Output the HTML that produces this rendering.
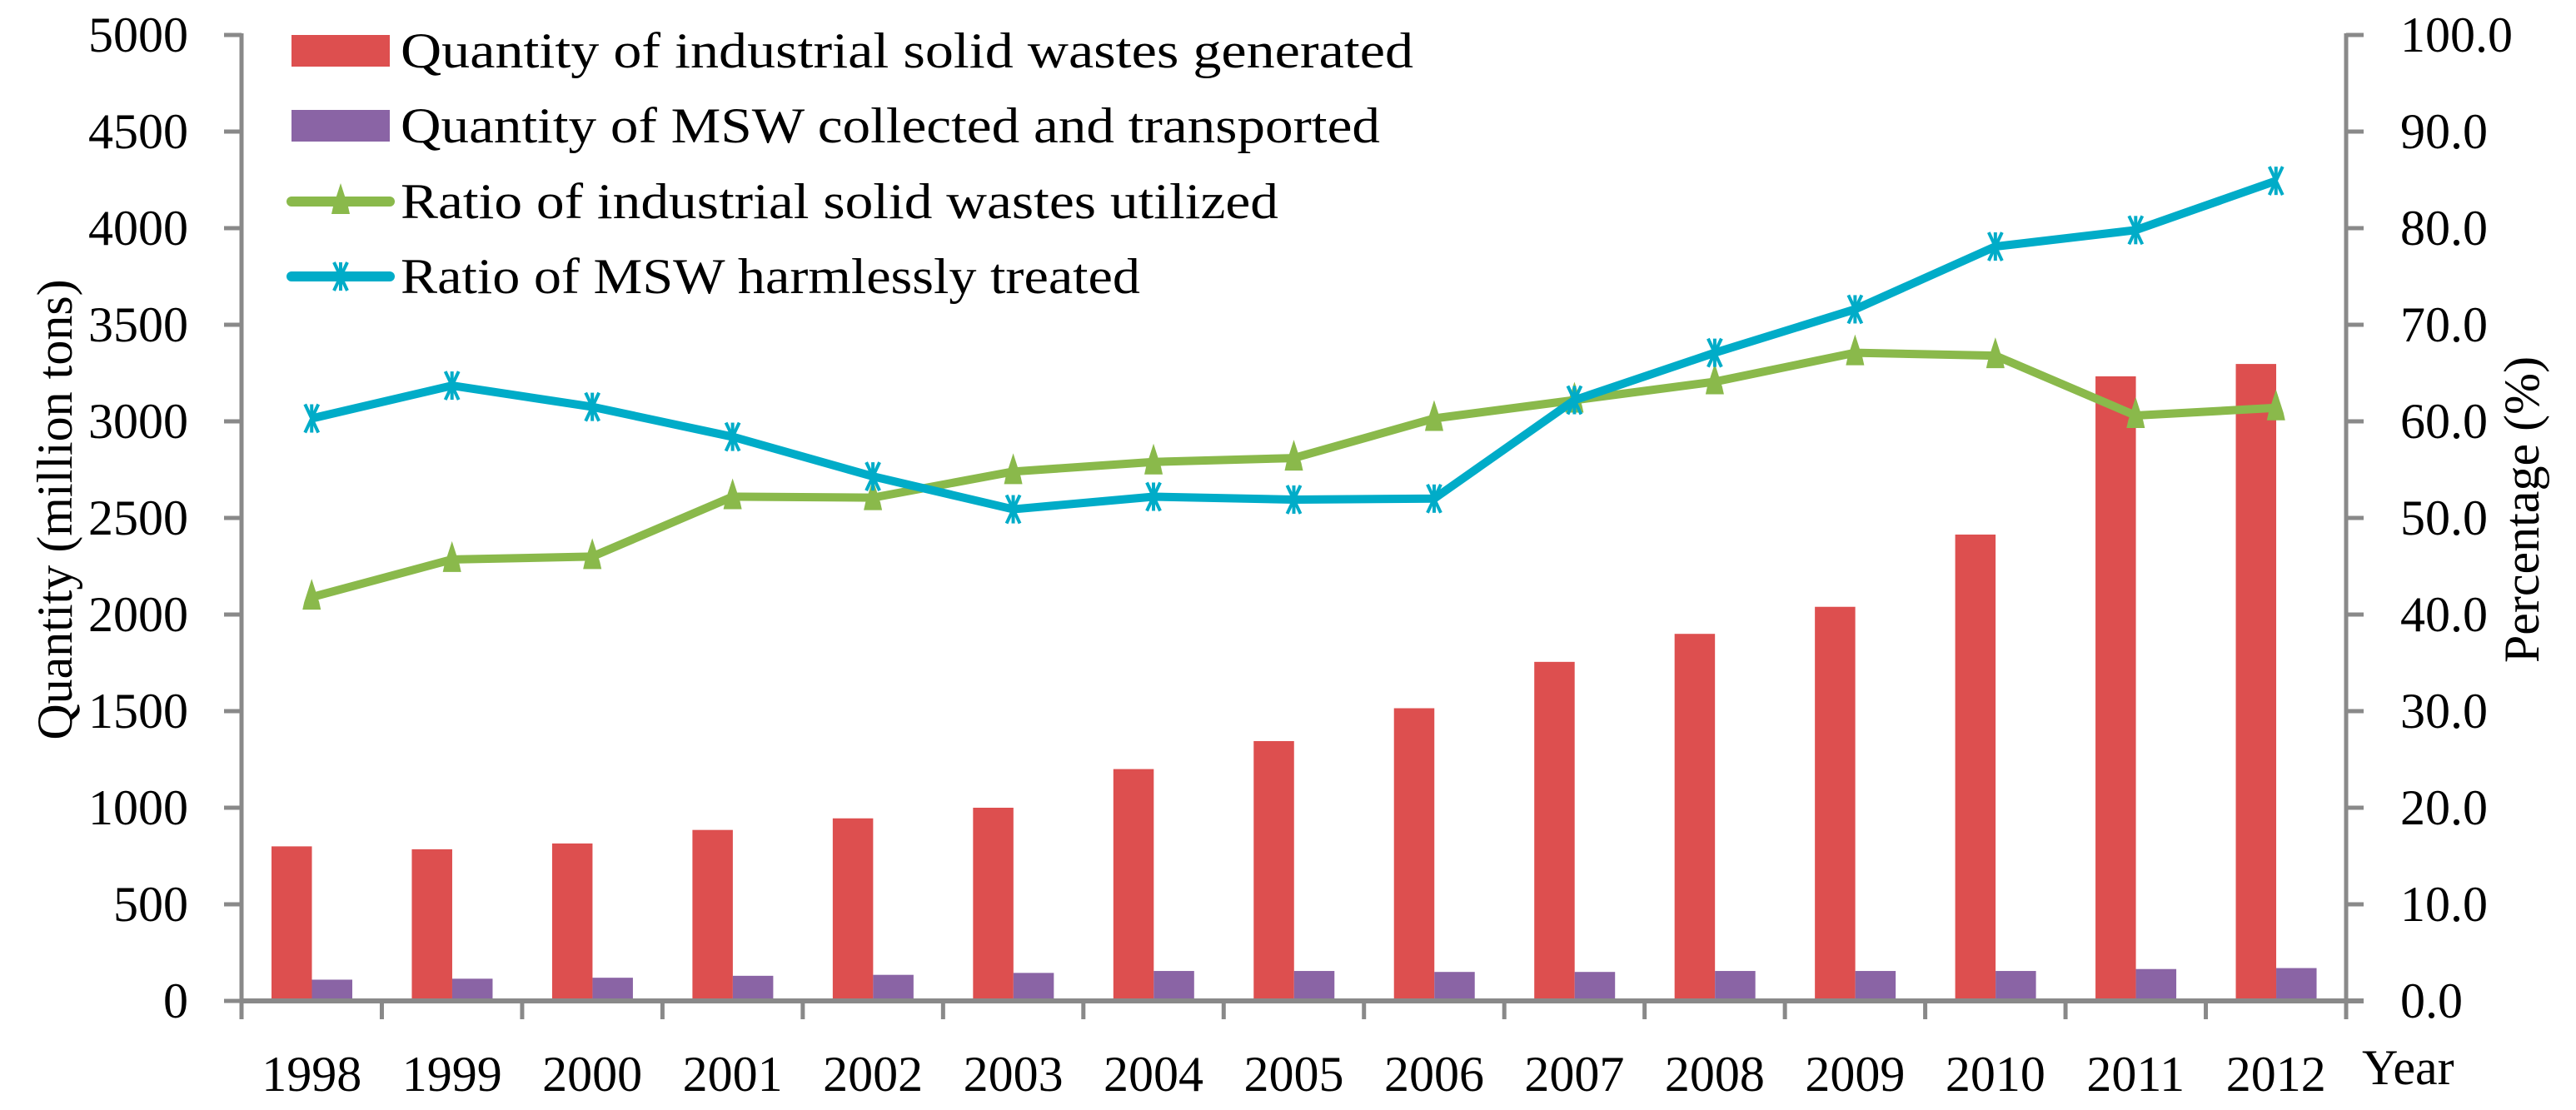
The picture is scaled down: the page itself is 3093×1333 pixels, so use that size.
<!DOCTYPE html>
<html><head><meta charset="utf-8"><style>
html,body{margin:0;padding:0;background:#fff;}
svg{display:block;font-family:"Liberation Serif",serif;}
</style></head><body>
<svg id="chart" width="3093" height="1333" viewBox="0 0 3093 1333" xmlns="http://www.w3.org/2000/svg">
<g id="bars"></g>
<g id="lines"></g>
<g id="axes"></g>
<g id="legend"></g>
</svg>
<script>
const years = ["1998","1999","2000","2001","2002","2003","2004","2005","2006","2007","2008","2009","2010","2011","2012"];
const industrialGenerated = [800,785,815,885,945,1000,1200,1345,1515,1755,1900,2040,2414,3233,3297];
const mswCollected = [110,115,120,130,135,145,155,155,150,150,155,155,155,165,170];
const industrialUtilized = [41.8,45.7,46.0,52.2,52.1,54.8,55.8,56.2,60.3,62.2,64.1,67.1,66.8,60.6,61.4];
const mswTreated = [60.3,63.7,61.5,58.4,54.3,50.9,52.2,51.9,52.0,62.2,67.1,71.6,78.1,79.8,84.9];
const leftTicks = [0,500,1000,1500,2000,2500,3000,3500,4000,4500,5000];
const rightTicks = ["0.0","10.0","20.0","30.0","40.0","50.0","60.0","70.0","80.0","90.0","100.0"];

const NS="http://www.w3.org/2000/svg";
const X0=290, X1=2817, Y0=1202, Y1=42;
const catW=(X1-X0)/years.length;
const yL=v=>Y0-(v/5000)*(Y0-Y1);
const yR=v=>Y0-(v/100)*(Y0-Y1);
const xc=i=>X0+catW*(i+0.5);
function mk(tag,attrs,parent){const e=document.createElementNS(NS,tag);for(const k in attrs)e.setAttribute(k,attrs[k]);parent.appendChild(e);return e;}
const gb=document.getElementById('bars'),gl=document.getElementById('lines'),ga=document.getElementById('axes'),gg=document.getElementById('legend');
const bw=48.5;
years.forEach((y,i)=>{
  const x=X0+catW*i+36;
  let r=mk('rect',{x:x,y:yL(industrialGenerated[i]),width:bw,height:Y0-yL(industrialGenerated[i]),fill:'#dd4f4f'},gb);
  
  
  let p=mk('rect',{x:x+bw,y:yL(mswCollected[i]),width:bw,height:Y0-yL(mswCollected[i]),fill:'#8a64a5'},gb);
  
  
});
function tri(cx,cy,parent,name){
  const t=mk('path',{d:`M${cx} ${cy-22} L${cx+9} ${cy+6} L${cx+11} ${cy+15} L${cx-11} ${cy+15} L${cx-9} ${cy+6} Z`,fill:'#8ab94b'},parent);
  
  
}
function star(cx,cy,parent,name){
  const g=mk('g',{stroke:'#00acc8','stroke-width':4,fill:'none'},parent);
  
  
  mk('line',{x1:cx,y1:cy-17,x2:cx,y2:cy+17},g);
  mk('line',{x1:cx-8,y1:cy-17,x2:cx+8,y2:cy+17},g);
  mk('line',{x1:cx+8,y1:cy-17,x2:cx-8,y2:cy+17},g);
}
let gp=mk('polyline',{points:industrialUtilized.map((v,i)=>xc(i)+','+yR(v)).join(' '),fill:'none',stroke:'#8ab94b','stroke-width':10,'stroke-linejoin':'round'},gl);


industrialUtilized.forEach((v,i)=>tri(xc(i),yR(v),gl,'marker-utilized-'+years[i]));
let bp=mk('polyline',{points:mswTreated.map((v,i)=>xc(i)+','+yR(v)).join(' '),fill:'none',stroke:'#00acc8','stroke-width':10,'stroke-linejoin':'round'},gl);


mswTreated.forEach((v,i)=>star(xc(i),yR(v),gl,'marker-treated-'+years[i]));
const ax='#898989';
let a1=mk('line',{x1:X0,y1:Y1-2,x2:X0,y2:Y0+22,stroke:ax,'stroke-width':5},ga);

let a2=mk('line',{x1:X1,y1:Y1-2,x2:X1,y2:Y0+22,stroke:ax,'stroke-width':5},ga);

let a3=mk('line',{x1:X0,y1:Y0,x2:X1+21,y2:Y0,stroke:ax,'stroke-width':6},ga);

leftTicks.forEach(v=>{
  mk('line',{x1:269,y1:yL(v),x2:X0,y2:yL(v),stroke:ax,'stroke-width':5},ga);
  const t=mk('text',{x:226,y:yL(v)+20,'text-anchor':'end','font-size':60},ga);t.textContent=v;
  
});
rightTicks.forEach((v,i)=>{
  const yy=yR(i*10);
  mk('line',{x1:X1,y1:yy,x2:X1+21,y2:yy,stroke:ax,'stroke-width':5},ga);
  const t=mk('text',{x:2882,y:yy+20,'font-size':60},ga);t.textContent=v;
  
});
for(let i=0;i<=years.length;i++){mk('line',{x1:X0+catW*i,y1:Y0,x2:X0+catW*i,y2:1224,stroke:ax,'stroke-width':5},ga);}
years.forEach((y,i)=>{
  const t=mk('text',{x:xc(i),y:1310,'text-anchor':'middle','font-size':60},ga);t.textContent=y;
  
});
</script>
<svg style="position:absolute;left:0;top:0" width="3093" height="1333" xmlns="http://www.w3.org/2000/svg" font-family="Liberation Serif, serif">
<text x="2836" y="1302" font-size="60">Year</text>
<text transform="translate(86,612) rotate(-90)" text-anchor="middle" font-size="60">Quantity (million tons)</text>
<text transform="translate(3048,612) rotate(-90)" text-anchor="middle" font-size="60">Percentage (%)</text>
<g>
<rect x="350" y="42" width="118" height="38" fill="#dd4f4f"/>
<text x="481" y="81" font-size="60" textLength="1216" lengthAdjust="spacingAndGlyphs">Quantity of industrial solid wastes generated</text></g>
<g>
<rect x="350" y="132" width="118" height="38" fill="#8a64a5"/>
<text x="481" y="171" font-size="60" textLength="1176" lengthAdjust="spacingAndGlyphs">Quantity of MSW collected and transported</text></g>
<g>
<line x1="350" y1="242" x2="468" y2="242" stroke="#8ab94b" stroke-width="12" stroke-linecap="round"/>
<path d="M409 220 L418 248 L420 257 L398 257 L400 248 Z" fill="#8ab94b"/>
<text x="481" y="262" font-size="60" textLength="1054" lengthAdjust="spacingAndGlyphs">Ratio of industrial solid wastes utilized</text></g>
<g>
<line x1="350" y1="332" x2="468" y2="332" stroke="#00acc8" stroke-width="12" stroke-linecap="round"/>
<g stroke="#00acc8" stroke-width="4"><line x1="409" y1="315" x2="409" y2="349"/><line x1="401" y1="315" x2="417" y2="349"/><line x1="417" y1="315" x2="401" y2="349"/></g>
<text x="481" y="352" font-size="60" textLength="888" lengthAdjust="spacingAndGlyphs">Ratio of MSW harmlessly treated</text></g>
</svg>
</body></html>
